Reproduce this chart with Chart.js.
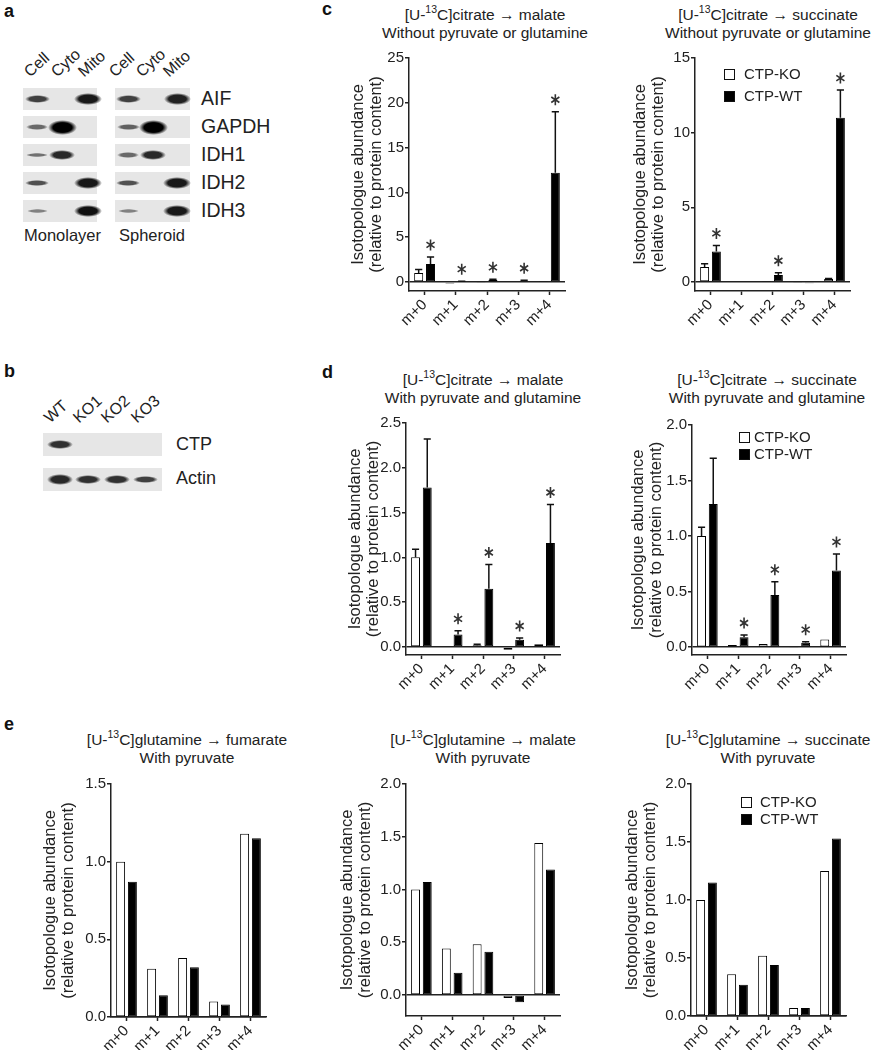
<!DOCTYPE html>
<html>
<head>
<meta charset="utf-8">
<script src="https://cdn.jsdelivr.net/npm/chart.js@4.4.1/dist/chart.umd.min.js"></script>
<style>
body { margin: 0; background: #fff; font-family: "Liberation Sans", Arial, sans-serif; color: #222; }
#fig { position: relative; width: 880px; height: 1050px; overflow: hidden; }
.letter { position: absolute; font-weight: bold; font-size: 18px; line-height: 18px; color: #111; }
.ttl { position: absolute; font-size: 15.5px; line-height: 18px; text-align: center; white-space: nowrap; transform: translateX(-50%); }
.ttl sup { font-size: 10.5px; line-height: 0; position: relative; top: -1px; }
.strip { position: absolute; background: #e6e6e6; }
.band { position: absolute; border-radius: 50%; }
.lbl { position: absolute; white-space: nowrap; line-height: 1; }
.lane { position: absolute; white-space: nowrap; font-size: 16px; line-height: 16px; transform-origin: 0 100%; transform: rotate(-42deg); }
.leg { position: absolute; font-size: 15px; line-height: 15px; white-space: nowrap; }
.leg i { display: inline-block; width: 9px; height: 9px; border: 1px solid #111; vertical-align: -1px; }
canvas { position: absolute; }
</style>
</head>
<body>
<div id="fig"></div>
<script>
// --- data ---
const groups = ["m+0", "m+1", "m+2", "m+3", "m+4"];
const series = ["CTP-KO", "CTP-WT"];
const yTitle = ["Isotopologue abundance", "(relative to protein content)"];

// c: citrate, without pyruvate or glutamine
const cMalKO = [1.0, -0.15, -0.1, 0.0, 0.05];
const cMalKOErr = [0.4, 0, 0, 0, 0];
const cMalWT = [2.0, 0.05, 0.25, 0.15, 12.2];
const cMalWTErr = [0.8, 0.05, 0.05, 0.05, 6.8];
const cMalStars = [1, 1, 1, 1, 1];
const cMalTicks = [0, 5, 10, 15, 20, 25];

const cSucKO = [1.0, 0.0, 0.04, -0.03, 0.2];
const cSucKOErr = [0.22, 0, 0, 0, 0.03];
const cSucWT = [2.05, 0.0, 0.47, -0.08, 11.0];
const cSucWTErr = [0.4, 0, 0.15, 0, 1.85];
const cSucStars = [1, 0, 1, 0, 1];
const cSucTicks = [0, 5, 10, 15];

// d: citrate, with pyruvate and glutamine
const dMalKO = [1.0, -0.01, 0.02, -0.03, 0.03];
const dMalKOErr = [0.09, 0, 0.01, 0, 0];
const dMalWT = [1.78, 0.14, 0.65, 0.08, 1.16];
const dMalWTErr = [0.54, 0.04, 0.27, 0.02, 0.43];
const dMalStars = [0, 1, 1, 1, 1];
const dMalTicks = [0, 0.5, 1.0, 1.5, 2.0, 2.5];

const dSucKO = [1.0, 0.02, 0.03, -0.005, 0.07];
const dSucKOErr = [0.08, 0, 0, 0, 0];
const dSucWT = [1.29, 0.09, 0.47, 0.04, 0.69];
const dSucWTErr = [0.41, 0.02, 0.12, 0.01, 0.15];
const dSucStars = [0, 1, 1, 1, 1];
const dSucTicks = [0, 0.5, 1.0, 1.5, 2.0];

// e: glutamine, with pyruvate
const eFumKO = [1.0, 0.31, 0.38, 0.10, 1.18];
const eFumWT = [0.87, 0.14, 0.32, 0.08, 1.15];
const eFumTicks = [0, 0.5, 1.0, 1.5];

const eMalKO = [1.0, 0.44, 0.48, -0.03, 1.44];
const eMalWT = [1.07, 0.21, 0.41, -0.07, 1.19];
const eMalTicks = [0, 0.5, 1.0, 1.5, 2.0];

const eSucKO = [1.0, 0.36, 0.52, 0.07, 1.25];
const eSucWT = [1.15, 0.27, 0.44, 0.07, 1.53];
const eSucTicks = [0, 0.5, 1.0, 1.5, 2.0];

// western blots (band intensity 0..1)
const blotLanes = ["Cell", "Cyto", "Mito"];
const blotProteins = ["AIF", "GAPDH", "IDH1", "IDH2", "IDH3"];
const monolayer = [[0.6, 0, 0.85], [0.35, 1.0, 0], [0.3, 0.75, 0], [0.5, 0, 0.85], [0.2, 0, 0.9]];
const spheroid = [[0.6, 0, 0.8], [0.4, 1.0, 0], [0.35, 0.75, 0], [0.5, 0, 0.85], [0.2, 0, 0.85]];
const koLanes = ["WT", "KO1", "KO2", "KO3"];
const koProteins = ["CTP", "Actin"];
const koBlot = [[0.7, 0, 0, 0], [0.75, 0.7, 0.7, 0.6]];

const fig = document.getElementById("fig");
const FONT = "'Liberation Sans', Arial, sans-serif";

function add(cls, x, y, html, style) {
  const d = document.createElement("div");
  d.className = cls;
  d.style.left = x + "px";
  d.style.top = y + "px";
  if (style) Object.assign(d.style, style);
  d.innerHTML = html;
  fig.appendChild(d);
  return d;
}

// --- blots ---
function band(cx, cy, I) {
  if (!I) return;
  const w = 19 + 10 * I, h = 4 + 11 * I * I, a = 0.3 + 0.7 * I;
  add("band", cx - w / 2, cy - h / 2, "", {
    width: w + "px", height: h + "px",
    background: `radial-gradient(ellipse closest-side, rgba(0,0,0,${a}) 65%, rgba(0,0,0,0) 100%)`
  });
}

function blot(x, w, tops, h, lanes, rows) {
  rows.forEach((r, i) => {
    add("strip", x, tops[i], "", { width: w + "px", height: h + "px" });
    r.forEach((I, j) => band(x + lanes[j], tops[i] + h / 2, I));
  });
}

const rowTops = [88, 116, 144, 172, 200];
blot(23, 74, rowTops, 22, [14, 39, 65], monolayer);
blot(115, 75, rowTops, 22, [13, 38, 62], spheroid);
blotProteins.forEach((p, i) => add("lbl", 201, rowTops[i] + 1, p, { fontSize: "19.5px" }));
[32, 59, 86].forEach((x, i) => add("lane", x, 64, blotLanes[i]));
[117, 144, 171].forEach((x, i) => add("lane", x, 64, blotLanes[i]));
add("lbl", 24, 227, "Monolayer", { fontSize: "16.5px" });
add("lbl", 119, 227, "Spheroid", { fontSize: "16.5px" });

blot(43, 119, [433, 468], 23, [17, 45, 74, 102], koBlot);
add("lbl", 176, 435, koProteins[0], { fontSize: "18px" });
add("lbl", 176, 469, koProteins[1], { fontSize: "18px" });
[52, 81, 109, 139].forEach((x, i) => add("lane", x, 410, koLanes[i]));

// panel letters
add("letter", 4, 2, "a");
add("letter", 4, 362, "b");
add("letter", 322, 0, "c");
add("letter", 322, 363, "d");
add("letter", 4, 715, "e");

// --- bar charts ---
const errorBars = {
  id: "errorBars",
  afterDatasetsDraw(chart) {
    const ctx = chart.ctx, y = chart.scales.y;
    ctx.save();
    chart.data.datasets.forEach((ds, i) => {
      const meta = chart.getDatasetMeta(i);
      meta.data.forEach((bar, j) => {
        const v = ds.data[j], e = ds.errors ? ds.errors[j] : 0;
        if (e) {
          const y0 = y.getPixelForValue(v), y1 = y.getPixelForValue(v + e);
          const hw = bar.width * 0.4;
          ctx.strokeStyle = "#111";
          ctx.lineWidth = 1.5;
          ctx.beginPath();
          ctx.moveTo(bar.x, y0); ctx.lineTo(bar.x, y1);
          ctx.moveTo(bar.x - hw, y1); ctx.lineTo(bar.x + hw, y1);
          ctx.stroke();
        }
        if (ds.stars && ds.stars[j]) {
          // asterisk above the error bar
          const cy = y.getPixelForValue(Math.max(v, 0) + (e || 0)) - 12;
          const r = 5.5;
          ctx.lineWidth = 1.6;
          ctx.strokeStyle = "#333";
          ctx.beginPath();
          for (let k = 0; k < 3; k++) {
            const ang = Math.PI / 2 + k * Math.PI / 3;
            ctx.moveTo(bar.x - r * Math.cos(ang) * 0.85, cy - r * Math.sin(ang));
            ctx.lineTo(bar.x + r * Math.cos(ang) * 0.85, cy + r * Math.sin(ang));
          }
          ctx.stroke();
        }
      });
    });
    ctx.restore();
  }
};

function barChart(p) {
  const yW = p.dist + 9;
  const cw = p.R - p.L + yW + 10, ch = p.B - p.T + 10 + 50;
  const cv = document.createElement("canvas");
  cv.width = cw; cv.height = ch;
  cv.style.left = (p.L - yW) + "px";
  cv.style.top = (p.T - 10) + "px";
  cv.style.width = cw + "px"; cv.style.height = ch + "px";
  fig.appendChild(cv);

  add("ttl", p.tx, p.ty, p.title);

  new Chart(cv, {
    type: "bar",
    data: {
      labels: groups,
      datasets: [
        { label: series[0], data: p.ko, errors: p.koErr, backgroundColor: "#fff" },
        { label: series[1], data: p.wt, errors: p.wtErr, stars: p.stars, backgroundColor: "#000" }
      ]
    },
    options: {
      responsive: false,
      animation: false,
      devicePixelRatio: 1,
      layout: { padding: { top: 10, right: 10, left: 0, bottom: 0 } },
      datasets: {
        bar: { borderColor: "#000", borderWidth: 1, borderSkipped: false, categoryPercentage: 0.76, barPercentage: 0.76 }
      },
      plugins: { legend: { display: false }, tooltip: { enabled: false } },
      scales: {
        x: {
          grid: { display: true, drawOnChartArea: false, offset: false, tickLength: 4, tickColor: "#222", tickWidth: 1.5 },
          border: { display: true, color: "#222", width: 1.5 },
          ticks: { color: "#222", font: { size: 15, family: FONT }, maxRotation: 45, minRotation: 45, padding: 1 },
          afterFit(s) { s.height = 50; }
        },
        y: {
          min: p.min, max: p.max,
          afterBuildTicks(s) { s.ticks = p.ticks.map(v => ({ value: v })); },
          grid: {
            color: c => (c.tick && c.tick.value === 0) ? "#222" : "rgba(0,0,0,0)",
            lineWidth: 1.5, tickColor: "#222", tickLength: 4, tickWidth: 1.5
          },
          border: { display: true, color: "#222", width: 1.5 },
          ticks: { color: "#222", font: { size: 15, family: FONT }, padding: 1, callback: v => v.toFixed(p.dec) },
          title: { display: true, text: yTitle, color: "#222", font: { size: 16.5, family: FONT, lineHeight: 1.1 }, padding: 0 },
          afterFit(s) { s.width = yW; }
        }
      }
    },
    plugins: [errorBars]
  });

  if (p.legend) {
    const [lx, ly, gap, tg] = p.legend;
    add("leg", lx, ly - 8, `<i style="background:#fff"></i><span style="margin-left:${tg}px">${series[0]}</span>`);
    add("leg", lx, ly - 8 + gap, `<i style="background:#000"></i><span style="margin-left:${tg}px">${series[1]}</span>`);
  }
}

const sup = "[U-<sup>13</sup>C]";

barChart({ L: 409, R: 565, T: 58, B: 291, min: -1, max: 25, ticks: cMalTicks, dec: 0, dist: 51,
  ko: cMalKO, koErr: cMalKOErr, wt: cMalWT, wtErr: cMalWTErr, stars: cMalStars,
  tx: 485, ty: 6, title: sup + "citrate → malate<br>Without pyruvate or glutamine" });

barChart({ L: 695, R: 850, T: 58, B: 291, min: -0.6, max: 15, ticks: cSucTicks, dec: 0, dist: 55,
  ko: cSucKO, koErr: cSucKOErr, wt: cSucWT, wtErr: cSucWTErr, stars: cSucStars,
  tx: 768, ty: 6, title: sup + "citrate → succinate<br>Without pyruvate or glutamine",
  legend: [724, 74, 22, 9] });

barChart({ L: 406, R: 560, T: 423, B: 655, min: -0.09, max: 2.5, ticks: dMalTicks, dec: 1, dist: 51,
  ko: dMalKO, koErr: dMalKOErr, wt: dMalWT, wtErr: dMalWTErr, stars: dMalStars,
  tx: 483, ty: 371, title: sup + "citrate → malate<br>With pyruvate and glutamine" });

barChart({ L: 692, R: 846, T: 425, B: 655, min: -0.07, max: 2.0, ticks: dSucTicks, dec: 1, dist: 54,
  ko: dSucKO, koErr: dSucKOErr, wt: dSucWT, wtErr: dSucWTErr, stars: dSucStars,
  tx: 767, ty: 371, title: sup + "citrate → succinate<br>With pyruvate and glutamine",
  legend: [739, 437, 17, 4] });

barChart({ L: 111, R: 266, T: 784, B: 1017, min: 0, max: 1.5, ticks: eFumTicks, dec: 1, dist: 61,
  ko: eFumKO, wt: eFumWT,
  tx: 187, ty: 731, title: sup + "glutamine → fumarate<br>With pyruvate" });

barChart({ L: 406, R: 560, T: 784, B: 1016, min: -0.2, max: 2.0, ticks: eMalTicks, dec: 1, dist: 59,
  ko: eMalKO, wt: eMalWT,
  tx: 483, ty: 731, title: sup + "glutamine → malate<br>With pyruvate" });

barChart({ L: 691, R: 846, T: 784, B: 1016, min: 0, max: 2.0, ticks: eSucTicks, dec: 1, dist: 59,
  ko: eSucKO, wt: eSucWT,
  tx: 768, ty: 731, title: sup + "glutamine → succinate<br>With pyruvate",
  legend: [741, 802, 17, 8] });
</script>
</body>
</html>
